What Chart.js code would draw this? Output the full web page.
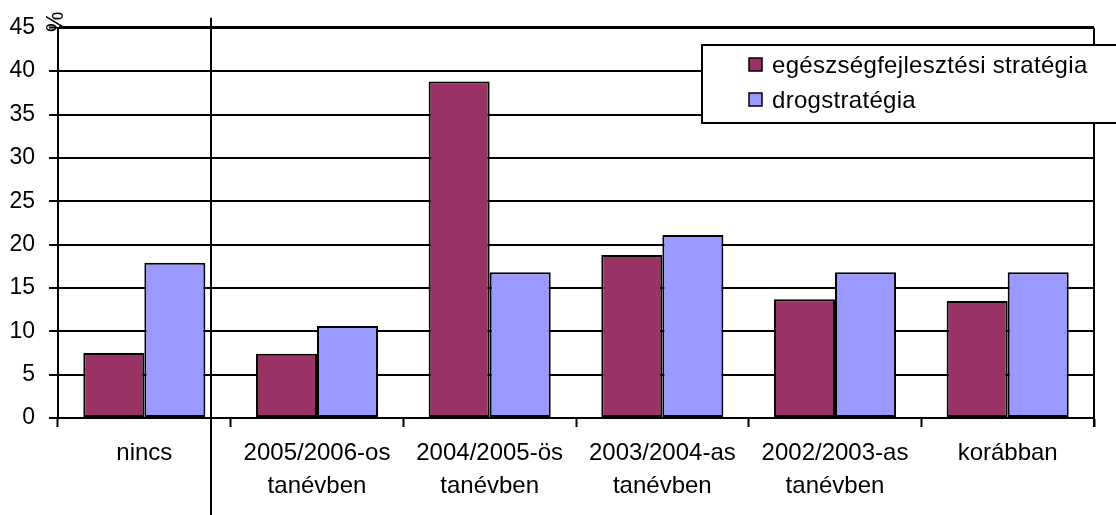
<!DOCTYPE html>
<html>
<head>
<meta charset="utf-8">
<script src="https://cdn.jsdelivr.net/npm/chart.js@4.4.1/dist/chart.umd.min.js"></script>
<style>
  html, body { margin: 0; padding: 0; background: #ffffff; }
  #wrap { width: 1116px; height: 515px; position: relative; }
</style>
</head>
<body>
<div id="wrap"><canvas id="c" width="1116" height="515"></canvas></div>
<script>
// Category labels (multi-line where the label wraps)
const categories = [
  ['nincs'],
  ['2005/2006-os', 'tanévben'],
  ['2004/2005-ös', 'tanévben'],
  ['2003/2004-as', 'tanévben'],
  ['2002/2003-as', 'tanévben'],
  ['korábban']
];

// Series names
const seriesHealth = 'egészségfejlesztési stratégia';
const seriesDrug = 'drogstratégia';

// Series values (%)
const healthValues = [7.5, 7.4, 38.8, 18.8, 13.7, 13.5];
const drugValues = [17.9, 10.6, 16.8, 21.1, 16.8, 16.8];

// Value axis ticks
const yTicks = [0, 5, 10, 15, 20, 25, 30, 35, 40, 45];
const yUnit = '%';

const FONT = "'Liberation Sans', Arial, sans-serif";

// Custom decorations: unit label, frame lines, separator and boxed legend
const decorations = {
  id: 'decorations',
  afterDatasetsDraw(chart) {
    const { ctx, chartArea, scales } = chart;
    const x = scales.x;
    ctx.save();
    ctx.strokeStyle = '#000';
    ctx.lineCap = 'butt';

    // right frame line with its tick below the axis
    ctx.lineWidth = 2;
    ctx.beginPath();
    ctx.moveTo(Math.round(chartArea.right), chartArea.top);
    ctx.lineTo(Math.round(chartArea.right), chartArea.bottom + 9);
    ctx.stroke();

    // vertical separator after the first category
    const sepX = Math.round(x.getPixelForValue(0.386));
    ctx.beginPath();
    ctx.moveTo(sepX, chartArea.top - 10);
    ctx.lineTo(sepX, chart.height);
    ctx.stroke();

    // rotated unit label at the top of the value axis
    ctx.fillStyle = '#000';
    ctx.font = '23px ' + FONT;
    ctx.translate(chartArea.left - 1, chartArea.top - 6);
    ctx.rotate(-Math.PI / 2);
    ctx.textAlign = 'center';
    ctx.textBaseline = 'middle';
    ctx.fillText(yUnit, 0, 0);
    ctx.restore();

    // boxed legend
    ctx.save();
    const bx = 702, by = 45, bw = 440, bh = 78;
    ctx.fillStyle = '#fff';
    ctx.fillRect(bx, by, bw, bh);
    ctx.lineWidth = 2;
    ctx.strokeStyle = '#000';
    ctx.strokeRect(bx, by, bw, bh);
    ctx.font = '24px ' + FONT;
    if ('letterSpacing' in ctx) ctx.letterSpacing = '0.3px';
    ctx.textAlign = 'left';
    ctx.textBaseline = 'middle';
    chart.data.datasets.forEach((ds, i) => {
      const cy = 65 + i * 35;
      ctx.fillStyle = ds.backgroundColor;
      ctx.fillRect(749, cy - 7, 13, 13);
      ctx.lineWidth = 1.5;
      ctx.strokeRect(749, cy - 7, 13, 13);
      ctx.fillStyle = '#000';
      ctx.fillText(ds.label, 772, cy + 1);
    });
    ctx.restore();
  }
};

new Chart(document.getElementById('c'), {
  type: 'bar',
  data: {
    labels: categories,
    datasets: [
      {
        label: seriesHealth,
        data: healthValues,
        backgroundColor: '#993366',
        borderColor: '#000',
        borderWidth: 2,
        borderSkipped: false
      },
      {
        label: seriesDrug,
        data: drugValues,
        backgroundColor: '#9999FF',
        borderColor: '#000',
        borderWidth: 2,
        borderSkipped: false
      }
    ]
  },
  options: {
    responsive: false,
    animation: false,
    events: [],
    layout: { padding: { top: 27, right: 22, left: 0, bottom: 0 } },
    datasets: { bar: { categoryPercentage: 0.707, barPercentage: 1.0 } },
    plugins: { legend: { display: false }, tooltip: { enabled: false }, title: { display: false } },
    scales: {
      x: {
        offset: true,
        grid: {
          offset: true,
          drawOnChartArea: false,
          drawTicks: true,
          tickLength: 9,
          tickWidth: 2,
          tickColor: '#000'
        },
        border: { display: true, color: '#000', width: 2 },
        ticks: {
          color: '#000',
          font: { family: FONT, size: 24, lineHeight: 1.375 },
          padding: 10,
          maxRotation: 0,
          autoSkip: false
        },
        afterFit(scale) { scale.height = 97; }
      },
      y: {
        min: yTicks[0],
        max: yTicks[yTicks.length - 1],
        afterBuildTicks(scale) { scale.ticks = yTicks.map(v => ({ value: v })); },
        grid: {
          color: '#000',
          lineWidth: (c) => (c.tick && c.tick.value === yTicks[yTicks.length - 1] ? 3 : 2),
          tickLength: 9,
          tickWidth: 2,
          tickColor: '#000'
        },
        border: { display: true, color: '#000', width: 2 },
        ticks: {
          color: '#000',
          font: { family: FONT, size: 23 },
          padding: 14
        },
        afterFit(scale) { scale.width = 58; }
      }
    }
  },
  plugins: [decorations]
});
</script>
</body>
</html>
